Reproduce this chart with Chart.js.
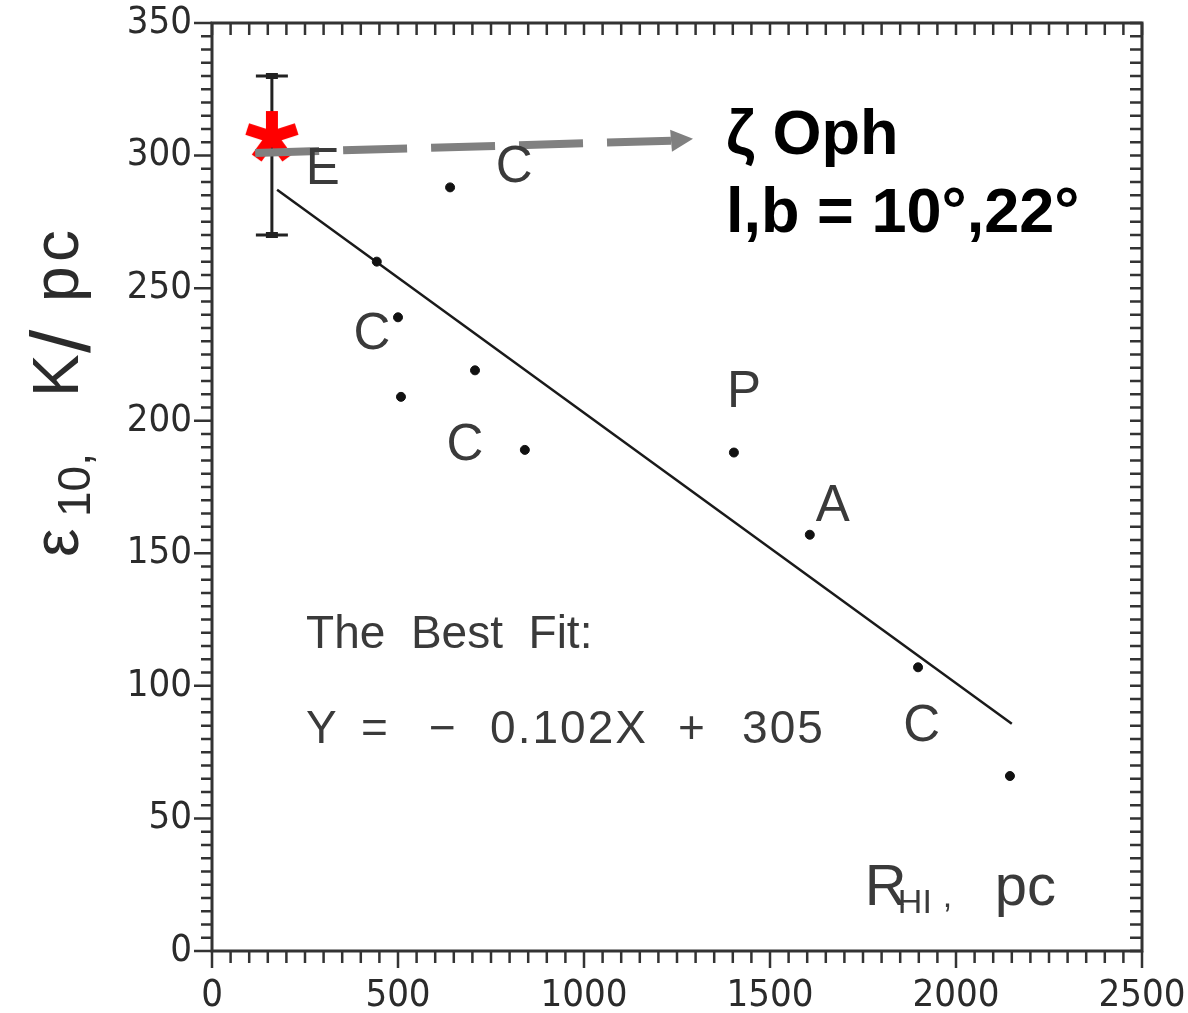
<!DOCTYPE html>
<html>
<head>
<meta charset="utf-8">
<title>epsilon vs R_HI</title>
<script src="https://cdn.jsdelivr.net/npm/chart.js@4.4.1/dist/chart.umd.min.js"></script>
<style>
  html, body { margin: 0; padding: 0; background: #fff; }
  #wrap { width: 1188px; height: 1013px; }
</style>
</head>
<body>
<div id="wrap"><canvas id="chart"></canvas></div>
<script>
// cloud points: R_HI (pc) vs epsilon_10 (K/pc)
const dotX = [640, 443, 500, 707, 508, 841, 1403, 1607, 1898, 2145];
const dotY = [288, 260, 239, 219, 209, 189, 188, 157, 107, 66];

// letter tags next to the points
const tagText = ['E', 'C', 'C', 'C', 'P', 'A', 'C'];
const tagX = [298, 812, 430, 680, 1430, 1669, 1908];
const tagY = [296, 297, 234, 192, 212, 169, 86];

// zeta Oph with its error bar
const starX = 161;
const starY = 307;
const errLow = 270;
const errHigh = 330;

// best fit  Y = -0.102X + 305
const fitSlope = -0.102;
const fitIntercept = 305;
const fitX = [175, 2150];

// pointer arrow from the star to the name
const arrowX = [116, 1234, 1293];
const arrowY = [301, 305.6, 306.3];

const xTicks = [0, 500, 1000, 1500, 2000, 2500];
const yTicks = [0, 50, 100, 150, 200, 250, 300, 350];

// equation pieces, spread out like the typed original
const eqParts = ['Y', '=', '\u2212', '0.102X', '+', '305'];
const eqGaps = [0, 55, 123, 184, 372, 436];

const scanFont = '"Liberation Sans", Arial, sans-serif';
const narrowFont = '"DejaVu Sans Condensed", "Liberation Sans", sans-serif';
const ink = '#2b2b2b';

function makeAsterisk() {
    const c = document.createElement('canvas');
    c.width = 64; c.height = 64;
    const g = c.getContext('2d');
    g.strokeStyle = '#ff0000';
    g.lineWidth = 12;
    g.lineCap = 'butt';
    [-90, -18, 54, 126, 198].forEach(a => {
        const r = a * Math.PI / 180;
        g.beginPath();
        g.moveTo(32, 32);
        g.lineTo(32 + 26 * Math.cos(r), 32 + 26 * Math.sin(r));
        g.stroke();
    });
    g.fillStyle = '#ff0000';
    g.beginPath(); g.arc(32, 32, 7, 0, Math.PI * 2); g.fill();
    return c;
}

const dots = dotX.map((x, i) => ({ x: x, y: dotY[i] }));
const fitLine = fitX.map(x => ({ x: x, y: fitSlope * x + fitIntercept }));
const arrowShaft = [{ x: arrowX[0], y: arrowY[0] }, { x: arrowX[1], y: arrowY[1] }];

// keep the plot box where the layout padding puts it
function noPad(s) {
    s.paddingLeft = 0; s.paddingRight = 0; s.paddingTop = 0; s.paddingBottom = 0;
}

const notes = {
    id: 'notes',
    beforeDatasetsDraw(chart) {
        const { ctx, scales: { x, y } } = chart;
        // error bar on the star
        const px = x.getPixelForValue(starX);
        const lo = y.getPixelForValue(errLow);
        const hi = y.getPixelForValue(errHigh);
        ctx.save();
        ctx.strokeStyle = '#222';
        ctx.lineWidth = 3;
        ctx.beginPath();
        ctx.moveTo(px, lo); ctx.lineTo(px, hi);
        ctx.moveTo(px - 16, lo); ctx.lineTo(px + 16, lo);
        ctx.moveTo(px - 16, hi); ctx.lineTo(px + 16, hi);
        ctx.stroke();
        ctx.lineWidth = 6;
        ctx.beginPath();
        ctx.moveTo(px - 6, lo); ctx.lineTo(px + 6, lo);
        ctx.moveTo(px - 6, hi); ctx.lineTo(px + 6, hi);
        ctx.stroke();
        ctx.restore();
    },
    afterDatasetsDraw(chart) {
        const { ctx, chartArea: a, scales: { x, y } } = chart;
        ctx.save();

        // arrow head
        const bx = x.getPixelForValue(arrowX[1]), by = y.getPixelForValue(arrowY[1]);
        const tx = x.getPixelForValue(arrowX[2]), ty = y.getPixelForValue(arrowY[2]);
        const ang = Math.atan2(ty - by, tx - bx);
        const nx = -Math.sin(ang) * 11, ny = Math.cos(ang) * 11;
        ctx.fillStyle = '#808080';
        ctx.beginPath();
        ctx.moveTo(tx, ty);
        ctx.lineTo(bx + nx, by + ny);
        ctx.lineTo(bx - nx, by - ny);
        ctx.closePath();
        ctx.fill();

        // letter tags
        ctx.fillStyle = '#3a3a3a';
        ctx.textAlign = 'center';
        ctx.textBaseline = 'alphabetic';
        ctx.font = '51px ' + scanFont;
        tagText.forEach((t, i) => {
            ctx.fillText(t, x.getPixelForValue(tagX[i]), y.getPixelForValue(tagY[i]) + 18);
        });

        // fit text
        ctx.textAlign = 'left';
        ctx.font = '46px ' + scanFont;
        const fx = x.getPixelForValue(253);
        ctx.fillText('The  Best  Fit:', fx, y.getPixelForValue(114.3));
        ctx.letterSpacing = '2px';
        const ey = y.getPixelForValue(78.6);
        eqParts.forEach((t, i) => ctx.fillText(t, fx + eqGaps[i], ey));
        ctx.letterSpacing = '0px';

        // R_HI, pc
        const rx = x.getPixelForValue(1755), ry = y.getPixelForValue(17.4);
        ctx.font = '58px ' + scanFont;
        ctx.fillText('R', rx, ry);
        ctx.font = '34px ' + scanFont;
        ctx.fillText('HI', rx + 33, ry + 8);
        ctx.fillText(',', rx + 78, ry + 2);
        ctx.font = '58px ' + scanFont;
        ctx.fillText('pc', rx + 130, ry);

        // zeta Oph label
        ctx.fillStyle = '#000';
        ctx.font = 'bold 63px ' + scanFont;
        const zx = x.getPixelForValue(1382);
        ctx.fillText('\u03b6 Oph', zx, y.getPixelForValue(300.5));
        ctx.fillText('l,b = 10\u00b0,22\u00b0', zx, y.getPixelForValue(271.2));

        // frame
        ctx.strokeStyle = '#333';
        ctx.lineWidth = 3;
        ctx.strokeRect(a.left, a.top, a.right - a.left, a.bottom - a.top);

        // minor and major ticks
        ctx.lineWidth = 2.5;
        ctx.beginPath();
        for (let v = 0; v <= 2500; v += 50) {
            const p = x.getPixelForValue(v);
            const len = v % 500 === 0 ? 17 : 12;
            ctx.moveTo(p, a.bottom); ctx.lineTo(p, a.bottom + len);
            ctx.moveTo(p, a.top); ctx.lineTo(p, a.top + 12);
        }
        for (let v = 0; v <= 350; v += 5) {
            const p = y.getPixelForValue(v);
            const len = v % 50 === 0 ? 18 : 11;
            ctx.moveTo(a.left, p); ctx.lineTo(a.left - len, p);
            ctx.moveTo(a.right, p); ctx.lineTo(a.right - 12, p);
        }
        ctx.stroke();

        // y axis title, read bottom to top
        ctx.fillStyle = ink;
        ctx.translate(78, 557);
        ctx.rotate(-Math.PI / 2);
        ctx.font = '64px ' + scanFont;
        ctx.fillText('\u03b5', 0, 0);
        ctx.font = '46px ' + scanFont;
        ctx.fillText('10,', 40, 12);
        ctx.font = '64px ' + scanFont;
        ctx.fillText('K', 160, 0);
        ctx.font = '84px ' + scanFont;
        ctx.fillText('/', 204, 12);
        ctx.font = '64px ' + scanFont;
        ctx.fillText('p', 255, 0);
        ctx.fillText('c', 295, 0);
        ctx.restore();
    }
};

new Chart(document.getElementById('chart'), {
    type: 'scatter',
    data: {
        datasets: [
            {
                type: 'line',
                data: arrowShaft,
                borderColor: '#808080',
                borderWidth: 8,
                borderDash: [64, 24],
                borderCapStyle: 'butt',
                pointRadius: 0,
                order: 0
            },
            {
                data: [{ x: starX, y: starY }],
                pointStyle: makeAsterisk(),
                pointRadius: 30,
                order: 1
            },
            {
                data: dots,
                pointRadius: 4.5,
                backgroundColor: '#111',
                borderColor: '#111',
                borderWidth: 1,
                order: 2
            },
            {
                type: 'line',
                data: fitLine,
                borderColor: '#1a1a1a',
                borderWidth: 2.5,
                pointRadius: 0,
                order: 3
            }
        ]
    },
    options: {
        responsive: true,
        maintainAspectRatio: false,
        animation: false,
        layout: { autoPadding: false, padding: { top: 23, right: 46, left: 0, bottom: 0 } },
        plugins: { legend: { display: false }, tooltip: { enabled: false } },
        scales: {
            x: {
                type: 'linear',
                min: 0,
                max: 2500,
                afterFit: s => { s.height = 62; noPad(s); },
                afterBuildTicks: s => { s.ticks = xTicks.map(v => ({ value: v })); },
                ticks: {
                    color: ink, padding: 22,
                    font: { family: narrowFont, size: 38 },
                    callback: v => String(v)
                },
                grid: { display: false, drawTicks: false },
                border: { display: false }
            },
            y: {
                min: 0,
                max: 350,
                afterFit: s => { s.width = 212; noPad(s); },
                afterBuildTicks: s => { s.ticks = yTicks.map(v => ({ value: v })); },
                ticks: {
                    color: ink, padding: 20,
                    font: { family: narrowFont, size: 38 },
                    callback: v => String(v)
                },
                grid: { display: false, drawTicks: false },
                border: { display: false }
            }
        }
    },
    plugins: [notes]
});
</script>
</body>
</html>
